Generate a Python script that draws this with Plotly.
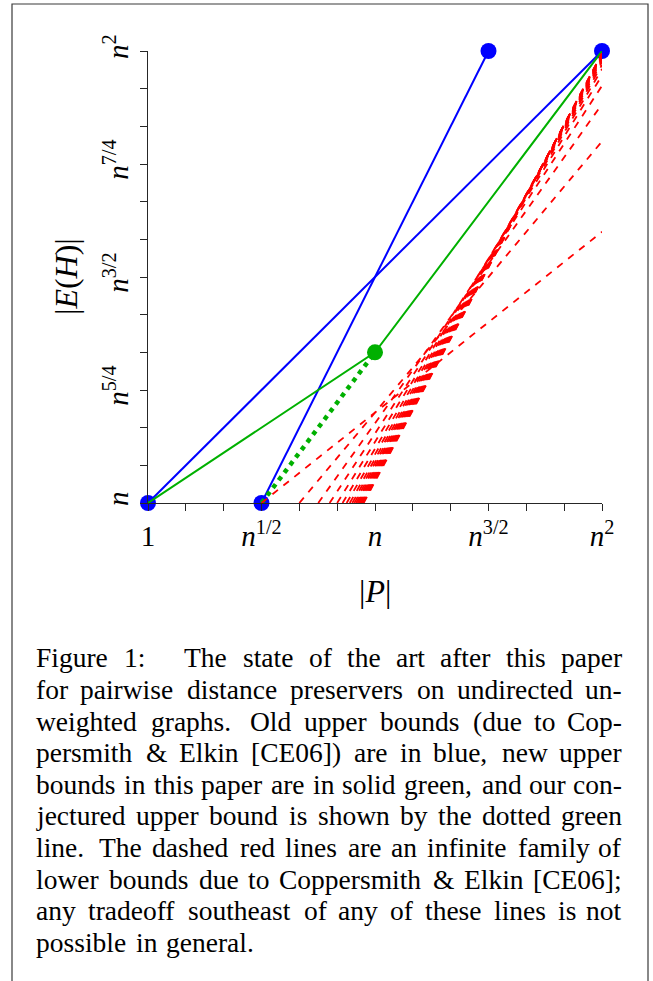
import plotly.graph_objects as go

# ---------------- data (exponents of n) ----------------
# old upper bounds (blue)
BLUE_A_X = [0, 2]
BLUE_A_Y = [1, 2]
BLUE_B_X = [0.5, 1.5]
BLUE_B_Y = [1, 2]
BLUE_PTS_X = [0, 0.5, 1.5, 2]
BLUE_PTS_Y = [1, 1, 2, 2]
# new upper bounds (solid green) and conjecture (dotted green)
GREEN_X = [0, 1, 2]
GREEN_Y = [1, 4 / 3, 2]
GREEN_DOT_X = [0.5, 1]
GREEN_DOT_Y = [1, 4 / 3]
GREEN_PT_X = [1]
GREEN_PT_Y = [4 / 3]
# lower bounds family (dashed red): each segment goes from (start_x, 1) to (2, end_y)
RED_START_X = [0.5, 0.6667, 0.75, 0.8, 0.8333, 0.8571, 0.875, 0.8889, 0.9, 0.9091,
               0.9167, 0.9231, 0.9286, 0.9333, 0.9375, 0.9412, 0.9444, 0.9474, 0.95]
RED_START_Y = [1] * 19
RED_END_X = [2] * 19
RED_END_Y = [1.6, 1.8, 1.8824, 1.9231, 1.9459, 1.96, 1.9692, 1.9756, 1.9802, 1.9836,
             1.9862, 1.9882, 1.9898, 1.9911, 1.9922, 1.9931, 1.9938, 1.9945, 1.995]

X_TICKS = [0, 0.5, 1, 1.5, 2]
X_LABELS = ["1", "<i>n</i><sup>1/2</sup>", "<i>n</i>", "<i>n</i><sup>3/2</sup>", "<i>n</i><sup>2</sup>"]
X_MINOR = [1 / 6, 2 / 6, 4 / 6, 5 / 6, 7 / 6, 8 / 6, 10 / 6, 11 / 6]
Y_TICKS = [1, 1.25, 1.5, 1.75, 2]
Y_LABELS = ["<i>n</i>", "<i>n</i><sup>5/4</sup>", "<i>n</i><sup>3/2</sup>",
            "<i>n</i><sup>7/4</sup>", "<i>n</i><sup>2</sup>"]
Y_MINOR = [1 + 1 / 12, 1 + 2 / 12, 1 + 4 / 12, 1 + 5 / 12, 1 + 7 / 12, 1 + 8 / 12,
           1 + 10 / 12, 1 + 11 / 12]

CAPTION_LINES = [
    "Figure 1: The state of the art after this paper",
    "for pairwise distance preservers on undirected un-",
    "weighted graphs. Old upper bounds (due to Cop-",
    "persmith & Elkin [CE06]) are in blue, new upper",
    "bounds in this paper are in solid green, and our con-",
    "jectured upper bound is shown by the dotted green",
    "line. The dashed red lines are an infinite family of",
    "lower bounds due to Coppersmith & Elkin [CE06];",
    "any tradeoff southeast of any of these lines is not",
    "possible in general.",
]

# ---------------- layout helpers ----------------
W, H = 653, 981
L, R, T, B = 148, 602, 51, 503   # plot area in pixels


def px_x(px):
    return (px - L) / (R - L)


def px_y(py):
    return (B - py) / (B - T)


FONT = "Liberation Serif"
BLUE = "#0000ff"
GREEN = "#00b000"
RED = "#ff0000"
AXC = "#262626"

fig = go.Figure()

# markers first (lines are drawn over them)
fig.add_trace(go.Scatter(x=BLUE_PTS_X, y=BLUE_PTS_Y, mode="markers",
                         marker=dict(size=16, color=BLUE), cliponaxis=False,
                         showlegend=False, hoverinfo="skip"))
fig.add_trace(go.Scatter(x=GREEN_PT_X, y=GREEN_PT_Y, mode="markers",
                         marker=dict(size=16, color=GREEN), cliponaxis=False,
                         showlegend=False, hoverinfo="skip"))

for xs, ys in [(BLUE_A_X, BLUE_A_Y), (BLUE_B_X, BLUE_B_Y)]:
    fig.add_trace(go.Scatter(x=xs, y=ys, mode="lines", line=dict(color=BLUE, width=2),
                             cliponaxis=False, showlegend=False, hoverinfo="skip"))
fig.add_trace(go.Scatter(x=GREEN_X, y=GREEN_Y, mode="lines", line=dict(color=GREEN, width=2),
                         cliponaxis=False, showlegend=False, hoverinfo="skip"))
fig.add_trace(go.Scatter(x=GREEN_DOT_X, y=GREEN_DOT_Y, mode="lines",
                         line=dict(color=GREEN, width=4.5, dash="4.5px,5px"),
                         cliponaxis=False, showlegend=False, hoverinfo="skip"))
for sx, sy, ex, ey in zip(RED_START_X, RED_START_Y, RED_END_X, RED_END_Y):
    fig.add_trace(go.Scatter(x=[sx, ex], y=[sy, ey], mode="lines",
                             line=dict(color=RED, width=1.8, dash="7px,7px"),
                             cliponaxis=False, showlegend=False, hoverinfo="skip"))

# ---------------- caption (justified) ----------------
TIMES_W = {' ': 250, '&': 778, '(': 333, ')': 333, ',': 250, '-': 333, '.': 250,
           '0': 500, '1': 500, '6': 500, ':': 278, ';': 278, '[': 333, ']': 333,
           'C': 667, 'E': 611, 'F': 556, 'O': 722, 'T': 611,
           'a': 444, 'b': 500, 'c': 444, 'd': 500, 'e': 444, 'f': 333, 'g': 500,
           'h': 500, 'i': 278, 'j': 278, 'k': 500, 'l': 278, 'm': 778, 'n': 500,
           'o': 500, 'p': 500, 'q': 500, 'r': 333, 's': 389, 't': 278, 'u': 500,
           'v': 500, 'w': 722, 'x': 500, 'y': 500, 'z': 444}
CAP_FS = 27.5
CAP_LEFT, CAP_RIGHT = 35, 623
CAP_BASE0, CAP_LEAD = 667, 31.65


def wwidth(s):
    return sum(TIMES_W.get(c, 500) for c in s) * CAP_FS / 1000 * 1.02


annotations = []
for k, line in enumerate(CAPTION_LINES):
    words = line.split(" ")
    ymid = CAP_BASE0 + k * CAP_LEAD - 0.3375 * CAP_FS
    last = k == len(CAPTION_LINES) - 1
    widths = [wwidth(w) for w in words]
    weights = []
    for w in words[:-1]:
        if w.endswith(":"):
            weights.append(2.6)
        elif w.endswith(".") or w.endswith(";"):
            weights.append(1.5)
        elif w.endswith(","):
            weights.append(1.15)
        else:
            weights.append(1.0)
    if last:
        unit = 0.3 * CAP_FS
    else:
        unit = (CAP_RIGHT - CAP_LEFT - sum(widths)) / sum(weights)
    x = CAP_LEFT
    for i, w in enumerate(words):
        txt = w.replace("&", "&amp;")
        right_end = (not last) and i == len(words) - 1
        annotations.append(dict(x=px_x(CAP_RIGHT if right_end else x), y=px_y(ymid),
                                xref="paper", yref="paper", text=txt, showarrow=False,
                                borderpad=0,
                                xanchor="right" if right_end else "left", yanchor="middle",
                                font=dict(family=FONT, size=CAP_FS, color="black")))
        if i < len(words) - 1:
            x += widths[i] + unit * weights[i]

# axis titles
annotations.append(dict(x=px_x(375), y=px_y(591), xref="paper", yref="paper",
                        text="|<i>P</i>|", showarrow=False, xanchor="center", yanchor="middle",
                        font=dict(family=FONT, size=32, color="black")))
annotations.append(dict(x=px_x(66), y=px_y(277), xref="paper", yref="paper",
                        text="|<i>E</i>(<i>H</i>)|", showarrow=False, xanchor="center",
                        yanchor="middle", textangle=-90,
                        font=dict(family=FONT, size=32, color="black")))

shapes = [dict(type="rect", xref="paper", yref="paper",
               x0=px_x(12), x1=px_x(648), y0=px_y(1010), y1=px_y(4),
               line=dict(color="#3a3a3a", width=1.2), fillcolor="rgba(0,0,0,0)", layer="below")]

axis_common = dict(showline=True, linecolor=AXC, linewidth=1, ticks="outside", ticklen=7,
                   tickcolor=AXC, tickwidth=1, showgrid=False, zeroline=False,
                   tickfont=dict(family=FONT, size=29, color="black"), fixedrange=True)

fig.update_layout(
    width=W, height=H,
    margin=dict(l=L, r=W - R, t=T, b=H - B, autoexpand=False),
    paper_bgcolor="white", plot_bgcolor="white",
    font=dict(family=FONT, color="black"),
    xaxis=dict(range=[0, 2], tickvals=X_TICKS, ticktext=X_LABELS,
               minor=dict(tickvals=X_MINOR, ticks="outside", ticklen=7, tickcolor=AXC,
                          tickwidth=1, showgrid=False),
               **axis_common),
    yaxis=dict(range=[1, 2], tickvals=Y_TICKS, ticktext=Y_LABELS, tickangle=-90,
               minor=dict(tickvals=Y_MINOR, ticks="outside", ticklen=7, tickcolor=AXC,
                          tickwidth=1, showgrid=False),
               **axis_common),
    annotations=annotations,
    shapes=shapes,
    showlegend=False,
)

fig.write_html("out.html", config={"displayModeBar": False},
               post_script="document.body.style.margin='0px';document.body.style.overflow='hidden';")
